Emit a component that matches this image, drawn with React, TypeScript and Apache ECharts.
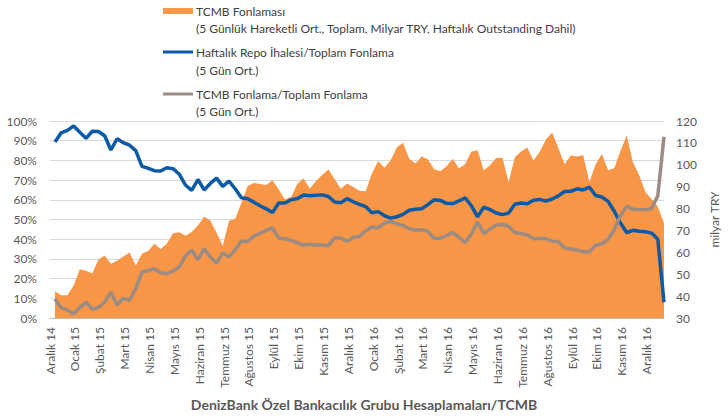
import React, { useEffect, useRef } from "react";
import * as echarts from "echarts";

const monthLabels = [
  "Aralık 14", "Ocak 15", "Şubat 15", "Mart 15", "Nisan 15", "Mayıs 15", "Haziran 15",
  "Temmuz 15", "Ağustos 15", "Eylül 15", "Ekim 15", "Kasım 15", "Aralık 15",
  "Ocak 16", "Şubat 16", "Mart 16", "Nisan 16", "Mayıs 16", "Haziran 16",
  "Temmuz 16", "Ağustos 16", "Eylül 16", "Ekim 16", "Kasım 16", "Aralık 16",
];

// TCMB Fonlaması (milyar TRY), right axis
const tcmbFunding = [
  42.2, 40.4, 40.4, 44.9, 52.3, 51.6, 50.3, 56.7, 58.5, 54.8,
  56.1, 58.1, 59.9, 54, 59.3, 60.6, 63.9, 61.5, 63.9, 68.7,
  69.2, 67.6, 69.3, 72.3, 76.2, 74.5, 69, 62.9, 74.4, 75.2,
  82.7, 90.3, 91.7, 91.2, 90.8, 92.9, 88.7, 84.3, 85.3, 91.2,
  93.8, 89.1, 92.6, 95.3, 97.8, 93.5, 89.1, 91.4, 89.9, 88.1,
  87.9, 96, 101.7, 98.6, 102, 107.9, 110.1, 102.8, 100.6, 103.8,
  102.5, 98, 97.1, 99.3, 102.8, 98.4, 100.2, 106.1, 106.6, 97.5,
  99.8, 103.1, 103.2, 92, 103.4, 106.1, 107.9, 102, 105.9, 111.5,
  114.8, 107.7, 100.2, 104.2, 103.8, 104.3, 92.1, 100.2, 104.9, 97.5,
  98.4, 106.3, 113.4, 101.1, 95.3, 87.6, 84.4, 80.9, 73.2,
];

// Haftalık Repo İhalesi / Toplam Fonlama (%)
const repoShare = [
  89.3, 94, 95.2, 97.5, 94.3, 91.2, 94.8, 94.7, 92.5, 85.3,
  91, 89, 87.7, 85, 77, 76, 74.8, 74.6, 76.3, 75.8,
  73, 67.5, 64.8, 70.3, 65, 68.3, 71, 66.8, 69.5, 65.6,
  61, 60.5, 58.8, 57, 55.4, 53.5, 58.4, 58.4, 60, 60.6,
  62.4, 62.1, 62.3, 62.5, 61.7, 58.9, 58.5, 60.6, 59, 57.7,
  56.5, 53.4, 54, 52, 50.7, 51.4, 52.6, 54.7, 55.2, 55.5,
  57.5, 60, 59.7, 58.2, 58.1, 59.4, 61, 57, 51.3, 56.3,
  55, 53.3, 52.5, 53.3, 57.7, 58.4, 58, 59.8, 60.2, 59.3,
  60.4, 62, 64.2, 64.3, 65.6, 65, 66.4, 62.2, 61.4, 59.2,
  54.2, 48.2, 43.3, 44.5, 44, 43.8, 43.1, 40, 8,
];

// TCMB Fonlama / Toplam Fonlama (%)
const tcmbShare = [
  9.6, 5.1, 4, 2, 5.3, 8, 4.5, 5.3, 8, 13,
  6.6, 10, 9, 14.9, 23.3, 24.1, 25, 23, 22.5, 23.8,
  26, 31.5, 34.5, 29.5, 35.2, 31, 27.8, 33, 31, 34.7,
  39, 38.8, 41.6, 43, 44.5, 45.7, 40.5, 40.2, 39.4, 38.2,
  37, 37.4, 37, 37, 36.7, 40.7, 40.6, 38.9, 41, 41.4,
  44.3, 46.2, 45.7, 48.2, 49, 47.8, 47, 45.3, 44.5, 44.8,
  44, 40.5, 40.5, 41.8, 43.5, 40.9, 38.4, 42.6, 48.7, 42.8,
  45.2, 47.2, 47.6, 46.5, 43.4, 42.9, 42.1, 40.2, 40.3, 40.3,
  39, 38.7, 35.5, 35, 34.5, 33.6, 33.5, 37, 37.7, 39.9,
  44.8, 52, 56.8, 55.2, 55, 55, 55.6, 62, 92,
];

// sampling time of each observation, in months since 1 Dec 2014 (weekly-ish)
const sampleMonths = repoShare.map((_, i) => 0.2 + i * 0.25);

const FONT = "Lato";
const ORANGE = "#F79646";
const BLUE = "#0A5AA6";
const GRAY = "#9C8B82";
const TEXT = "#595959";

export default function App() {
  const ref = useRef<HTMLDivElement>(null);
  useEffect(() => {
    if (!ref.current) return;
    const chart = echarts.init(ref.current, undefined, { renderer: "svg" });
    const pair = (arr: number[]) => arr.map((v, i) => [sampleMonths[i], v]);
    const legendText = (x: number, y: number, t: string) => ({
      type: "text",
      x,
      y,
      style: { text: t, fill: "#404040", font: `12px ${FONT}`, textVerticalAlign: "middle" },
    });
    chart.setOption({
      animation: false,
      textStyle: { fontFamily: FONT },
      grid: { left: 50, right: 48, top: 121, bottom: 101 },
      xAxis: {
        type: "value",
        min: 0,
        max: 24.7,
        interval: 1,
        axisLine: { show: true, lineStyle: { color: "#BFBFBF" } },
        axisTick: { show: false },
        splitLine: { show: false },
        axisLabel: {
          rotate: 90,
          margin: 9,
          color: TEXT,
          fontSize: 12,
          fontFamily: FONT,
          showMaxLabel: false,
          formatter: (v: number) => monthLabels[Math.round(v)] ?? "",
        },
      },
      yAxis: [
        {
          type: "value",
          min: 0,
          max: 100,
          interval: 10,
          axisLine: { show: false },
          axisTick: { show: false },
          splitLine: { lineStyle: { color: "#D9D9D9" } },
          axisLabel: { formatter: "{value}%", color: TEXT, fontSize: 12, fontFamily: FONT, margin: 13 },
        },
        {
          type: "value",
          min: 30,
          max: 120,
          interval: 10,
          position: "right",
          name: "milyar TRY",
          nameLocation: "middle",
          nameRotate: 90,
          nameGap: 44,
          nameTextStyle: { color: TEXT, fontSize: 12, fontFamily: FONT },
          axisLine: { show: false },
          axisTick: { show: false },
          splitLine: { show: false },
          axisLabel: { color: TEXT, fontSize: 12, fontFamily: FONT, margin: 12 },
        },
      ],
      series: [
        {
          name: "TCMB Fonlaması",
          type: "line",
          yAxisIndex: 1,
          data: pair(tcmbFunding),
          showSymbol: false,
          lineStyle: { width: 0 },
          areaStyle: { color: ORANGE, opacity: 1, origin: "start" },
          itemStyle: { color: ORANGE },
        },
        {
          name: "Haftalık Repo İhalesi/Toplam Fonlama",
          type: "line",
          yAxisIndex: 0,
          data: pair(repoShare),
          showSymbol: false,
          lineStyle: { width: 3.5, color: BLUE },
          itemStyle: { color: BLUE },
        },
        {
          name: "TCMB Fonlama/Toplam Fonlama",
          type: "line",
          yAxisIndex: 0,
          data: pair(tcmbShare),
          showSymbol: false,
          lineStyle: { width: 3.5, color: GRAY },
          itemStyle: { color: GRAY },
        },
      ],
      graphic: [
        { type: "rect", shape: { x: 163, y: 8, width: 30, height: 6 }, style: { fill: ORANGE } },
        legendText(196, 11, "TCMB Fonlaması"),
        legendText(196, 28, "(5 Günlük Hareketli Ort., Toplam, Milyar TRY, Haftalık Outstanding Dahil)"),
        { type: "line", shape: { x1: 163, y1: 52, x2: 193, y2: 52 }, style: { stroke: BLUE, lineWidth: 3 } },
        legendText(196, 52, "Haftalık Repo İhalesi/Toplam Fonlama"),
        legendText(196, 70, "(5 Gün Ort.)"),
        { type: "line", shape: { x1: 163, y1: 94, x2: 193, y2: 94 }, style: { stroke: GRAY, lineWidth: 3 } },
        legendText(196, 94, "TCMB Fonlama/Toplam Fonlama"),
        legendText(196, 111, "(5 Gün Ort.)"),
        {
          type: "text",
          x: 364,
          y: 404,
          style: {
            text: "DenizBank Özel Bankacılık Grubu Hesaplamaları/TCMB",
            fill: TEXT,
            font: `bold 14px ${FONT}`,
            textAlign: "center",
            textVerticalAlign: "middle",
          },
        },
      ],
    });
    return () => chart.dispose();
  }, []);
  return <div ref={ref} style={{ width: 728, height: 419, position: "absolute", left: 0, top: 0 }} />;
}
